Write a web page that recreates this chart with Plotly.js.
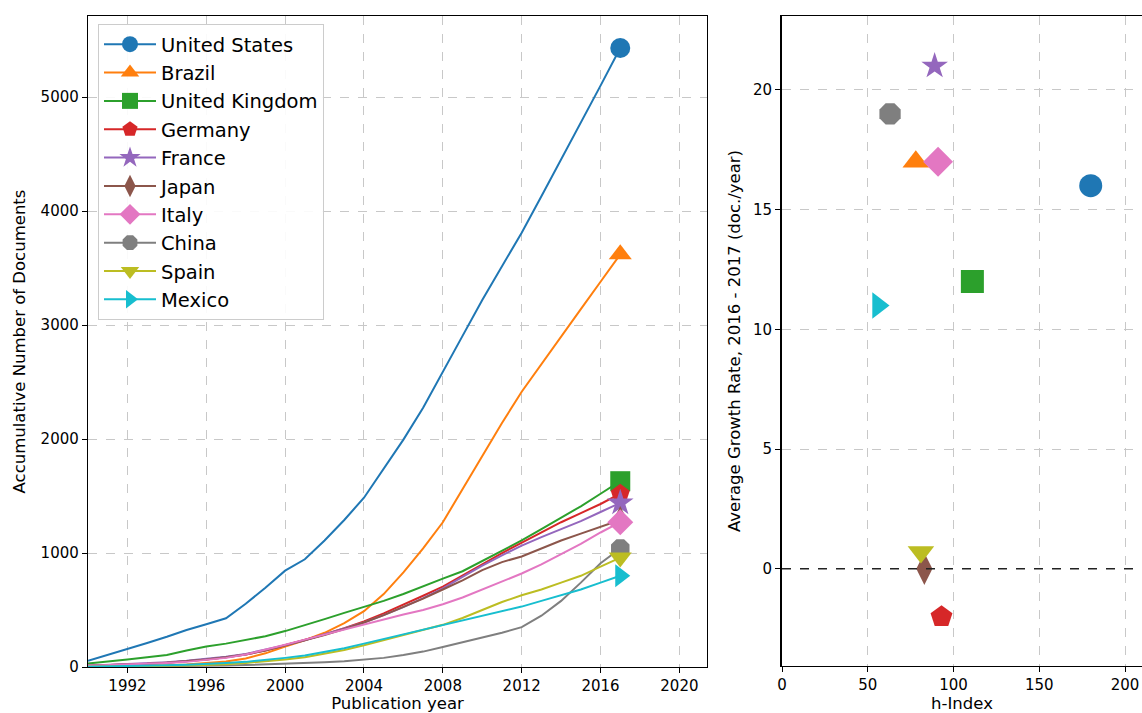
<!DOCTYPE html>
<html>
<head>
<meta charset="utf-8">
<script src="https://cdn.plot.ly/plotly-3.0.1.min.js"></script>
<style>html,body{margin:0;padding:0;background:#fff;}#chart{width:1142px;height:713px;}</style>
</head>
<body>
<div id="chart"></div>
<script>
const years = [1990,1991,1992,1993,1994,1995,1996,1997,1998,1999,2000,2001,2002,2003,2004,2005,2006,2007,2008,2009,2010,2011,2012,2013,2014,2015,2016,2017];
const countries = ["United States","Brazil","United Kingdom","Germany","France","Japan","Italy","China","Spain","Mexico"];
const usDocs = [55,105,155,210,265,325,375,427,555,695,845,945,1110,1290,1485,1735,1995,2275,2585,2905,3220,3520,3810,4130,4450,4780,5100,5430];
const brazilDocs = [2,4,7,10,15,22,32,48,75,120,180,235,300,385,490,640,830,1040,1270,1560,1850,2140,2415,2660,2900,3140,3380,3620];
const ukDocs = [30,45,65,85,105,145,180,205,235,270,315,365,420,475,525,580,640,710,775,840,930,1020,1110,1210,1310,1410,1520,1630];
const germanyDocs = [10,15,20,28,38,50,65,85,110,145,190,235,285,340,400,470,545,625,705,800,900,1000,1090,1180,1270,1350,1430,1520];
const franceDocs = [12,18,24,32,42,55,70,90,115,150,190,235,285,335,390,455,525,605,690,790,890,980,1065,1140,1210,1280,1360,1440];
const japanDocs = [10,15,20,28,38,50,65,85,110,145,188,232,280,333,390,455,525,600,680,760,850,920,970,1040,1110,1170,1230,1290];
const italyDocs = [10,15,20,25,35,45,60,80,110,150,195,240,285,330,375,420,460,500,550,610,680,750,820,900,990,1080,1180,1270];
const chinaDocs = [0,1,2,3,5,7,10,13,17,22,28,35,42,50,62,80,105,135,175,215,260,300,350,450,580,740,910,1040];
const spainDocs = [2,3,5,7,10,14,18,25,35,48,65,85,115,150,190,235,275,320,370,430,500,570,630,680,740,800,880,960];
const mexicoDocs = [3,5,8,11,15,20,25,35,45,60,80,100,130,165,205,245,285,325,365,405,445,490,530,580,630,680,740,800];
const hIndex = [180,78,111,93,89,83,91,63,81,56];
const growthRate = [16,17,12,-2,21,0,17,19,0.7,11];

const docs = [usDocs,brazilDocs,ukDocs,germanyDocs,franceDocs,japanDocs,italyDocs,chinaDocs,spainDocs,mexicoDocs];
const colors = ["#1f77b4","#ff7f0e","#2ca02c","#d62728","#9467bd","#8c564b","#e377c2","#7f7f7f","#bcbd22","#17becf"];
const symbols = ["circle","triangle-up","square","pentagon","star","diamond-tall","diamond","octagon","triangle-down","triangle-right"];
const scatterSizes = [23,23,23,23,20,23,23,23,23,23];
const font = "DejaVu Sans, Liberation Sans, sans-serif";

const traces = [];
countries.forEach((c,i) => {
  traces.push({
    type:"scatter", mode:"lines+markers", name:c, x:years, y:docs[i],
    xaxis:"x", yaxis:"y", legendgroup:"g"+i,
    line:{color:colors[i], width:2},
    marker:{color:colors[i], symbol:symbols[i], size:20, line:{width:0}},
    selectedpoints:[years.length-1],
    selected:{marker:{opacity:1}},
    unselected:{marker:{opacity:0}},
    hoverinfo:"x+y+name"
  });
});
countries.forEach((c,i) => {
  traces.push({
    type:"scatter", mode:"markers", name:c, x:[hIndex[i]], y:[growthRate[i]],
    xaxis:"x2", yaxis:"y2", showlegend:false,
    marker:{color:colors[i], symbol:symbols[i], size:scatterSizes[i], line:{width:0}}
  });
});

const gridStyle = {gridcolor:"#c8c8c8", griddash:"dash", gridwidth:1, zeroline:false,
  showline:true, linecolor:"#000", linewidth:1.2, ticks:"outside", ticklen:5, tickcolor:"#000",
  tickfont:{family:font, size:15, color:"#000"}};
const titleFont = {family:font, size:16.5, color:"#000"};

const layout = {
  width:1142, height:713,
  margin:{l:0,r:0,t:0,b:0},
  paper_bgcolor:"#fff", plot_bgcolor:"#fff",
  font:{family:font, color:"#000"},
  showlegend:true,
  legend:{x:98/1142, y:1-24/713, xanchor:"left", yanchor:"top",
    bgcolor:"rgba(255,255,255,0.9)", bordercolor:"#cccccc", borderwidth:1,
    font:{family:font, size:19.5, color:"#000"}, tracegroupgap:0, itemwidth:52},
  xaxis: Object.assign({}, gridStyle, {domain:[88/1142, 707/1142], range:[1990, 2021.4],
    tick0:1992, dtick:4, mirror:true, anchor:"y",
    title:{text:"Publication year", font:titleFont, standoff:7}}),
  yaxis: Object.assign({}, gridStyle, {domain:[1-667/713, 1-16/713], range:[0, 5711],
    tick0:0, dtick:1000, mirror:true, anchor:"x",
    title:{text:"Accumulative Number of Documents", font:titleFont, standoff:10}}),
  xaxis2: Object.assign({}, gridStyle, {domain:[782/1142, 1], range:[0, 209.9],
    tick0:0, dtick:50, mirror:true, anchor:"y2",
    title:{text:"h-Index", font:titleFont, standoff:7}}),
  yaxis2: Object.assign({}, gridStyle, {domain:[1-666/713, 1-16/713], range:[-4.06, 23.09],
    tick0:0, dtick:5, mirror:false, anchor:"x2", linewidth:2,
    title:{text:"Average Growth Rate, 2016 - 2017 (doc./year)", font:titleFont, standoff:8}}),
  shapes:[{type:"line", xref:"x2 domain", yref:"y2", x0:0, x1:1, y0:0, y1:0,
    line:{color:"#222", width:1.5, dash:"dash"}}]
};

Plotly.newPlot("chart", traces, layout, {displayModeBar:false, staticPlot:true});
</script>
</body>
</html>
